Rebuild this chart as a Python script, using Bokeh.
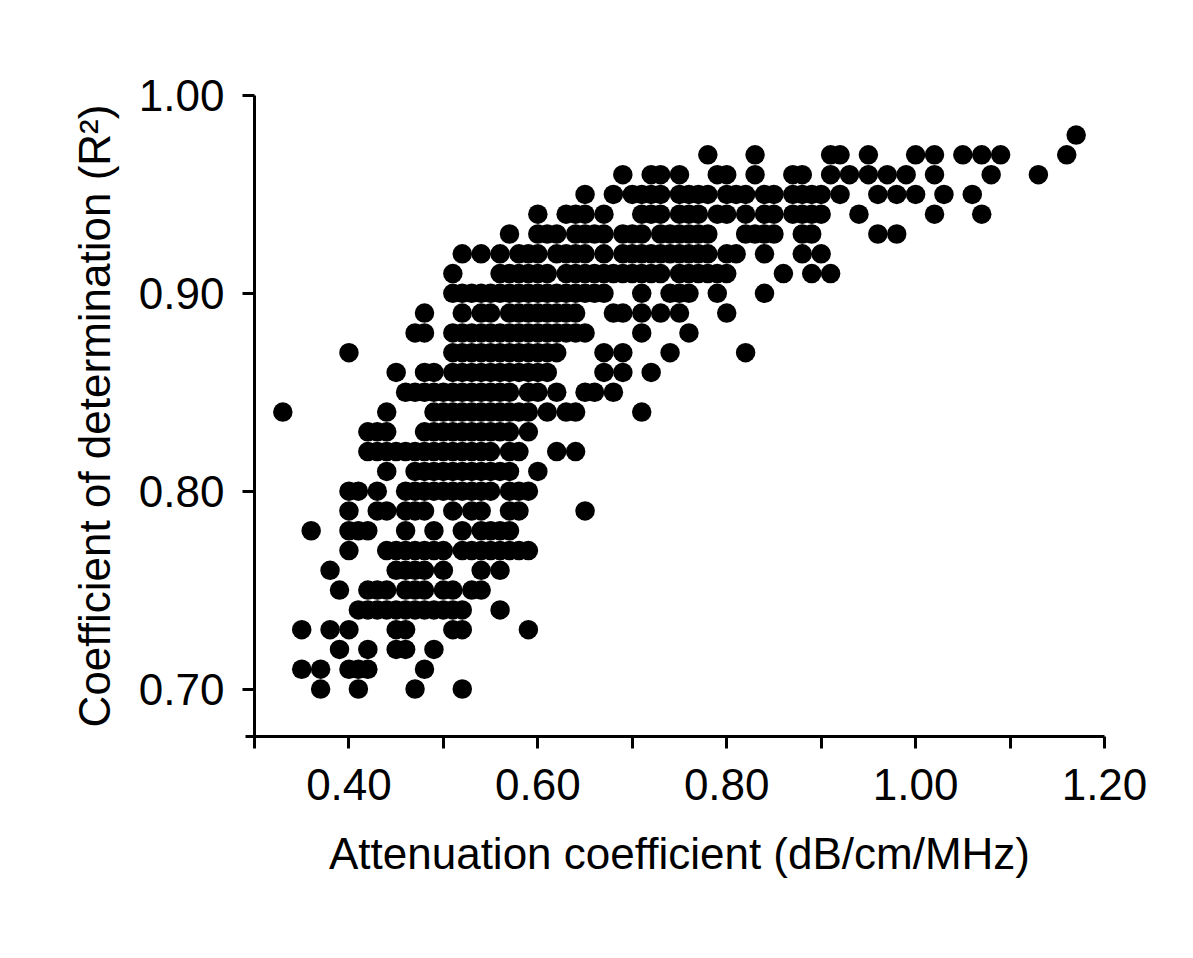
from bokeh.plotting import figure
from bokeh.models import FixedTicker, PrintfTickFormatter, Range1d, ColumnDataSource
from bokeh.embed import file_html
from bokeh.resources import INLINE

# Each list: attenuation coefficients (dB/cm/MHz) observed at the given R² level
r070 = [0.37, 0.41, 0.47, 0.52]
r071 = [0.35, 0.37, 0.40, 0.41, 0.42, 0.48]
r072 = [0.39, 0.42, 0.45, 0.46, 0.49]
r073 = [0.35, 0.38, 0.40, 0.45, 0.46, 0.51, 0.52, 0.59]
r074 = [0.41, 0.42, 0.43, 0.44, 0.45, 0.46, 0.47, 0.48, 0.49, 0.50, 0.51, 0.52, 0.56]
r075 = [0.39, 0.42, 0.43, 0.44, 0.46, 0.47, 0.48, 0.50, 0.51, 0.53, 0.54]
r076 = [0.38, 0.45, 0.46, 0.47, 0.48, 0.50, 0.54, 0.56]
r077 = [0.40, 0.44, 0.45, 0.46, 0.47, 0.48, 0.49, 0.50, 0.52, 0.53, 0.54, 0.55,
        0.56, 0.57, 0.58, 0.59]
r078 = [0.36, 0.40, 0.41, 0.42, 0.46, 0.49, 0.52, 0.54, 0.55, 0.56, 0.57]
r079 = [0.40, 0.43, 0.44, 0.46, 0.47, 0.48, 0.51, 0.53, 0.54, 0.57, 0.58, 0.65]
r080 = [0.40, 0.41, 0.43, 0.46, 0.47, 0.48, 0.49, 0.50, 0.51, 0.52, 0.53, 0.54,
        0.55, 0.57, 0.58, 0.59]
r081 = [0.44, 0.47, 0.48, 0.49, 0.50, 0.51, 0.52, 0.53, 0.54, 0.55, 0.56, 0.57, 0.60]
r082 = [0.42, 0.43, 0.44, 0.45, 0.46, 0.47, 0.48, 0.49, 0.50, 0.51, 0.52, 0.53,
        0.54, 0.55, 0.57, 0.58, 0.62, 0.64]
r083 = [0.42, 0.43, 0.44, 0.48, 0.49, 0.50, 0.51, 0.52, 0.53, 0.54, 0.55, 0.56,
        0.57, 0.59]
r084 = [0.33, 0.44, 0.49, 0.50, 0.51, 0.52, 0.53, 0.54, 0.55, 0.56, 0.57, 0.58,
        0.59, 0.61, 0.63, 0.64, 0.71]
r085 = [0.46, 0.47, 0.48, 0.49, 0.50, 0.51, 0.52, 0.53, 0.54, 0.55, 0.56, 0.57,
        0.59, 0.60, 0.62, 0.65, 0.66, 0.68]
r086 = [0.45, 0.48, 0.49, 0.51, 0.52, 0.53, 0.54, 0.55, 0.56, 0.57, 0.58, 0.59,
        0.60, 0.61, 0.67, 0.69, 0.72]
r087 = [0.40, 0.51, 0.52, 0.53, 0.54, 0.55, 0.56, 0.57, 0.58, 0.59, 0.60, 0.61,
        0.62, 0.67, 0.69, 0.74, 0.82]
r088 = [0.47, 0.48, 0.51, 0.52, 0.53, 0.54, 0.55, 0.56, 0.57, 0.58, 0.59, 0.60,
        0.61, 0.62, 0.63, 0.64, 0.65, 0.71, 0.76]
r089 = [0.48, 0.52, 0.54, 0.55, 0.57, 0.58, 0.59, 0.60, 0.61, 0.62, 0.63, 0.64,
        0.68, 0.69, 0.71, 0.73, 0.75, 0.80]
r090 = [0.51, 0.52, 0.53, 0.54, 0.55, 0.56, 0.57, 0.58, 0.59, 0.60, 0.61, 0.62,
        0.63, 0.64, 0.65, 0.66, 0.67, 0.71, 0.74, 0.75, 0.76, 0.79, 0.84]
r091 = [0.51, 0.56, 0.57, 0.58, 0.59, 0.60, 0.61, 0.63, 0.64, 0.65, 0.66, 0.67,
        0.68, 0.69, 0.70, 0.71, 0.72, 0.73, 0.75, 0.76, 0.77, 0.78, 0.79, 0.80,
        0.86, 0.89, 0.91]
r092 = [0.52, 0.54, 0.56, 0.58, 0.59, 0.60, 0.62, 0.63, 0.64, 0.65, 0.67, 0.69,
        0.70, 0.71, 0.72, 0.73, 0.74, 0.75, 0.76, 0.77, 0.78, 0.80, 0.81, 0.84,
        0.88, 0.90]
r093 = [0.57, 0.60, 0.61, 0.62, 0.64, 0.65, 0.66, 0.67, 0.69, 0.70, 0.71, 0.73,
        0.74, 0.75, 0.76, 0.77, 0.78, 0.82, 0.83, 0.84, 0.85, 0.88, 0.89, 0.96, 0.98]
r094 = [0.60, 0.63, 0.64, 0.65, 0.67, 0.71, 0.72, 0.73, 0.75, 0.76, 0.77, 0.79,
        0.80, 0.82, 0.84, 0.85, 0.87, 0.88, 0.89, 0.90, 0.94, 1.02, 1.07]
r095 = [0.65, 0.68, 0.70, 0.71, 0.72, 0.73, 0.75, 0.76, 0.77, 0.78, 0.80, 0.81,
        0.82, 0.84, 0.85, 0.87, 0.88, 0.89, 0.90, 0.92, 0.96, 0.98, 1.00, 1.03, 1.06]
r096 = [0.69, 0.72, 0.73, 0.75, 0.79, 0.80, 0.83, 0.87, 0.88, 0.91, 0.93, 0.95,
        0.97, 0.99, 1.02, 1.08, 1.13]
r097 = [0.78, 0.83, 0.91, 0.92, 0.95, 1.00, 1.02, 1.05, 1.07, 1.09, 1.16]
r098 = [1.17]

r2_levels = [0.70, 0.71, 0.72, 0.73, 0.74, 0.75, 0.76, 0.77, 0.78, 0.79,
             0.80, 0.81, 0.82, 0.83, 0.84, 0.85, 0.86, 0.87, 0.88, 0.89,
             0.90, 0.91, 0.92, 0.93, 0.94, 0.95, 0.96, 0.97, 0.98]
rows = [r070, r071, r072, r073, r074, r075, r076, r077, r078, r079,
        r080, r081, r082, r083, r084, r085, r086, r087, r088, r089,
        r090, r091, r092, r093, r094, r095, r096, r097, r098]

x_major_ticks = [0.40, 0.60, 0.80, 1.00, 1.20]
x_minor_ticks = [0.30, 0.50, 0.70, 0.90, 1.10]
y_major_ticks = [0.70, 0.80, 0.90, 1.00]

x_label = "Attenuation coefficient (dB/cm/MHz)"
y_label = "Coefficient of determination (R\u00b2)"

xs, ys = [], []
for level, row in zip(r2_levels, rows):
    for att in row:
        xs.append(att)
        ys.append(level)
src = ColumnDataSource(dict(x=xs, y=ys))

FONT = "Liberation Sans"
X0, X1 = 0.30, 1.20
Y0, Y1 = 0.676, 1.00

W, H = 1177, 942
BL, BT = 254, 95          # left / top borders (px)
FW, FH = 850, 641         # frame size (px)

p = figure(width=W, height=H, output_backend="svg", toolbar_location=None,
           x_range=Range1d(X0, X1), y_range=Range1d(Y0, Y1),
           min_border_left=BL, min_border_right=W - BL - FW,
           min_border_top=BT, min_border_bottom=H - BT - FH)
p.scatter(x="x", y="y", source=src, size=19.5, fill_color="black", line_color=None)

p.xgrid.visible = False
p.ygrid.visible = False
p.outline_line_color = None
p.background_fill_color = "white"
p.border_fill_color = "white"

p.xaxis.ticker = FixedTicker(ticks=x_major_ticks, minor_ticks=x_minor_ticks)
p.yaxis.ticker = FixedTicker(ticks=y_major_ticks, minor_ticks=[Y0])
p.xaxis.formatter = PrintfTickFormatter(format="%.2f")
p.yaxis.formatter = PrintfTickFormatter(format="%.2f")

p.xaxis.axis_label = x_label
p.yaxis.axis_label = y_label

for ax in (p.xaxis[0], p.yaxis[0]):
    ax.axis_line_color = "black"
    ax.axis_line_width = 3
    ax.major_tick_line_color = "black"
    ax.major_tick_line_width = 3
    ax.minor_tick_line_color = "black"
    ax.minor_tick_line_width = 3
    ax.major_tick_out = 12
    ax.major_tick_in = 0
    ax.minor_tick_in = 0
    ax.major_label_text_font = FONT
    ax.major_label_text_font_size = "44px"
    ax.major_label_text_color = "black"
    ax.axis_label_text_font = FONT
    ax.axis_label_text_font_size = "44px"
    ax.axis_label_text_font_style = "normal"
    ax.axis_label_text_color = "black"

p.xaxis.minor_tick_out = 12
p.yaxis.minor_tick_out = 9
p.xaxis.major_label_standoff = 20
p.xaxis.axis_label_standoff = 26
p.yaxis.major_label_standoff = 18
p.yaxis.axis_label_standoff = 17

open("out.html", "w").write(file_html(p, INLINE))
